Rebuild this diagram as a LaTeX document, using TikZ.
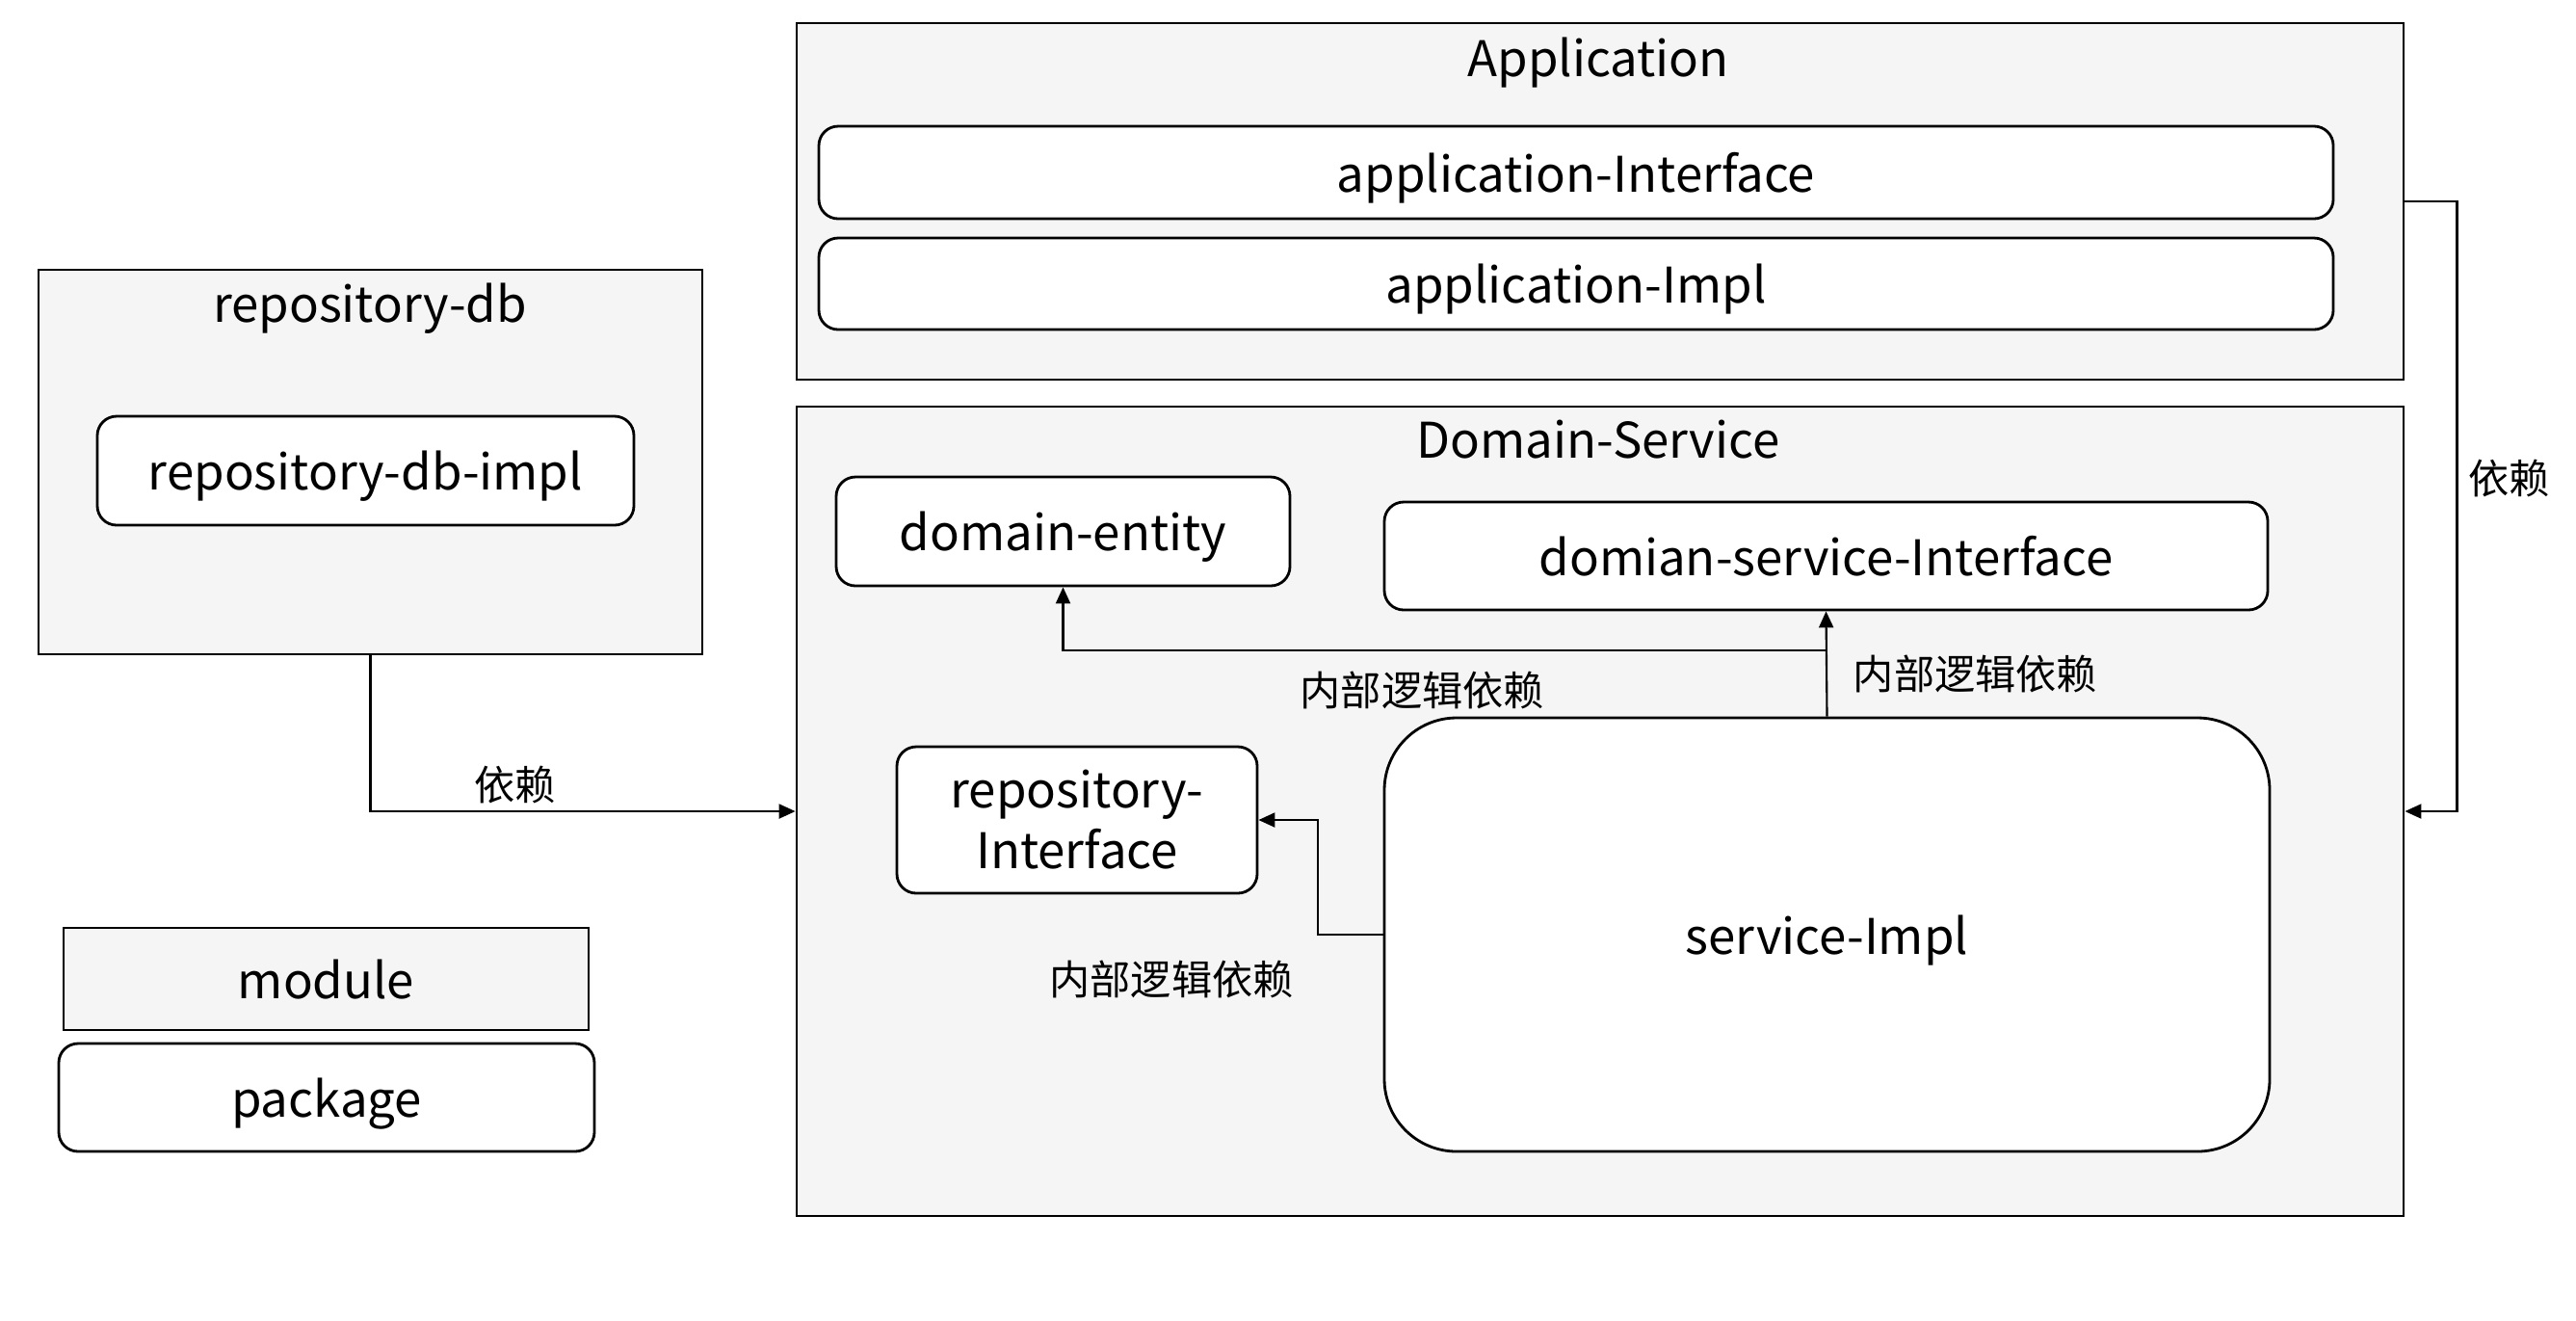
\documentclass[tikz,border=0pt]{standalone}
\usepackage{fontspec}
\newfontfamily\cjk{Noto Sans CJK SC}
\usepackage{tikz}
\usetikzlibrary{arrows.meta}
\definecolor{grau}{HTML}{F5F5F5}
\tikzset{
    punktmod/.style={
           rectangle,
           draw=black, line width=0.8pt,
           fill=grau,
           inner sep=0pt},
    punkt/.style={
           rectangle,
           rounded corners=0.2cm,
           draw=black, line width=0.8pt,
           fill=white,
           align=center,
           font=\cjk\fontsize{14.5}{17.9}\selectfont,
           text height=11.4pt, text depth=0pt,
           text centered},
    punktimpl/.style={
           punkt,
           rounded corners=0.75cm},
    titel/.style={
           font=\cjk\fontsize{14.5}{17.9}\selectfont,
           text height=11.4pt, text depth=0pt},
    etikett/.style={
           font=\cjk\fontsize{12}{14}\selectfont},
    pfeil/.style={
           -{Triangle[length=0.17cm,width=0.15cm]},
           line width=0.6pt}
    }
\begin{document}
\begin{tikzpicture}
\useasboundingbox (0,0) rectangle (26.74,-13.70);
% modules
\node[punktmod, minimum width=16.68cm, minimum height=3.70cm] (app) at (16.61,-2.09) {};
\node[titel] (apptitel) at (16.59,-0.59) {Application};
\node[punktmod, minimum width=16.68cm, minimum height=8.40cm] (dom) at (16.61,-8.42) {};
\node[titel] (domtitel) at (16.59,-4.55) {Domain-Service};
\node[punktmod, minimum width=6.89cm, minimum height=3.99cm] (repodb) at (3.845,-4.795) {};
\node[titel] (repodbtitel) at (3.84,-3.14) {repository-db};
% packages
\node[punkt, minimum width=15.72cm, minimum height=0.96cm] (appif) at (16.36,-1.79) {application-Interface};
\node[punkt, minimum width=15.72cm, minimum height=0.95cm] (appimpl) at (16.36,-2.945) {application-Impl};
\node[punkt, minimum width=4.71cm, minimum height=1.13cm] (entity) at (11.035,-5.515) {domain-entity};
\node[punkt, minimum width=9.17cm, minimum height=1.12cm] (dsif) at (18.955,-5.77) {domian-service-Interface};
\node[punkt, minimum width=3.74cm, minimum height=1.52cm, text height={}, text depth={}] (repoif) at (11.18,-8.51) {repository-\\Interface};
\node[punktimpl, minimum width=9.19cm, minimum height=4.50cm] (simpl) at (18.965,-9.70) {service-Impl};
\node[punkt, minimum width=5.57cm, minimum height=1.13cm] (repodbimpl) at (3.795,-4.885) {repository-db-impl};
% legend
\node[punktmod, titel, minimum width=5.45cm, minimum height=1.06cm] (module) at (3.385,-10.16) {module};
\node[punkt, minimum width=5.56cm, minimum height=1.12cm] (package) at (3.39,-11.39) {package};
% dependencies
\coordinate (appr) at ([xshift=0.54cm]app.east);
\coordinate (split) at ([yshift=0.69cm]simpl.north);
\draw[pfeil] (repodb.south) |- node[etikett, pos=0.67, above, inner sep=2pt] {依赖} (dom.west);
\draw[pfeil] (app.east) -- (appr) |- node[etikett, pos=0.227, right, inner sep=3pt] {依赖} (dom.east);
\draw[pfeil] (simpl.north) -- node[etikett, pos=0.40, right=0.15cm] {内部逻辑依赖} (dsif.south);
\draw[pfeil] (split) -| node[etikett, pos=0.265, below, inner sep=6pt] {内部逻辑依赖} (entity.south);
\draw[pfeil] (simpl.west) -- ++(-0.68,0) |- (repoif.east);
\node[etikett] (lbl) at (12.16,-10.16) {内部逻辑依赖};
\end{tikzpicture}
\end{document}
